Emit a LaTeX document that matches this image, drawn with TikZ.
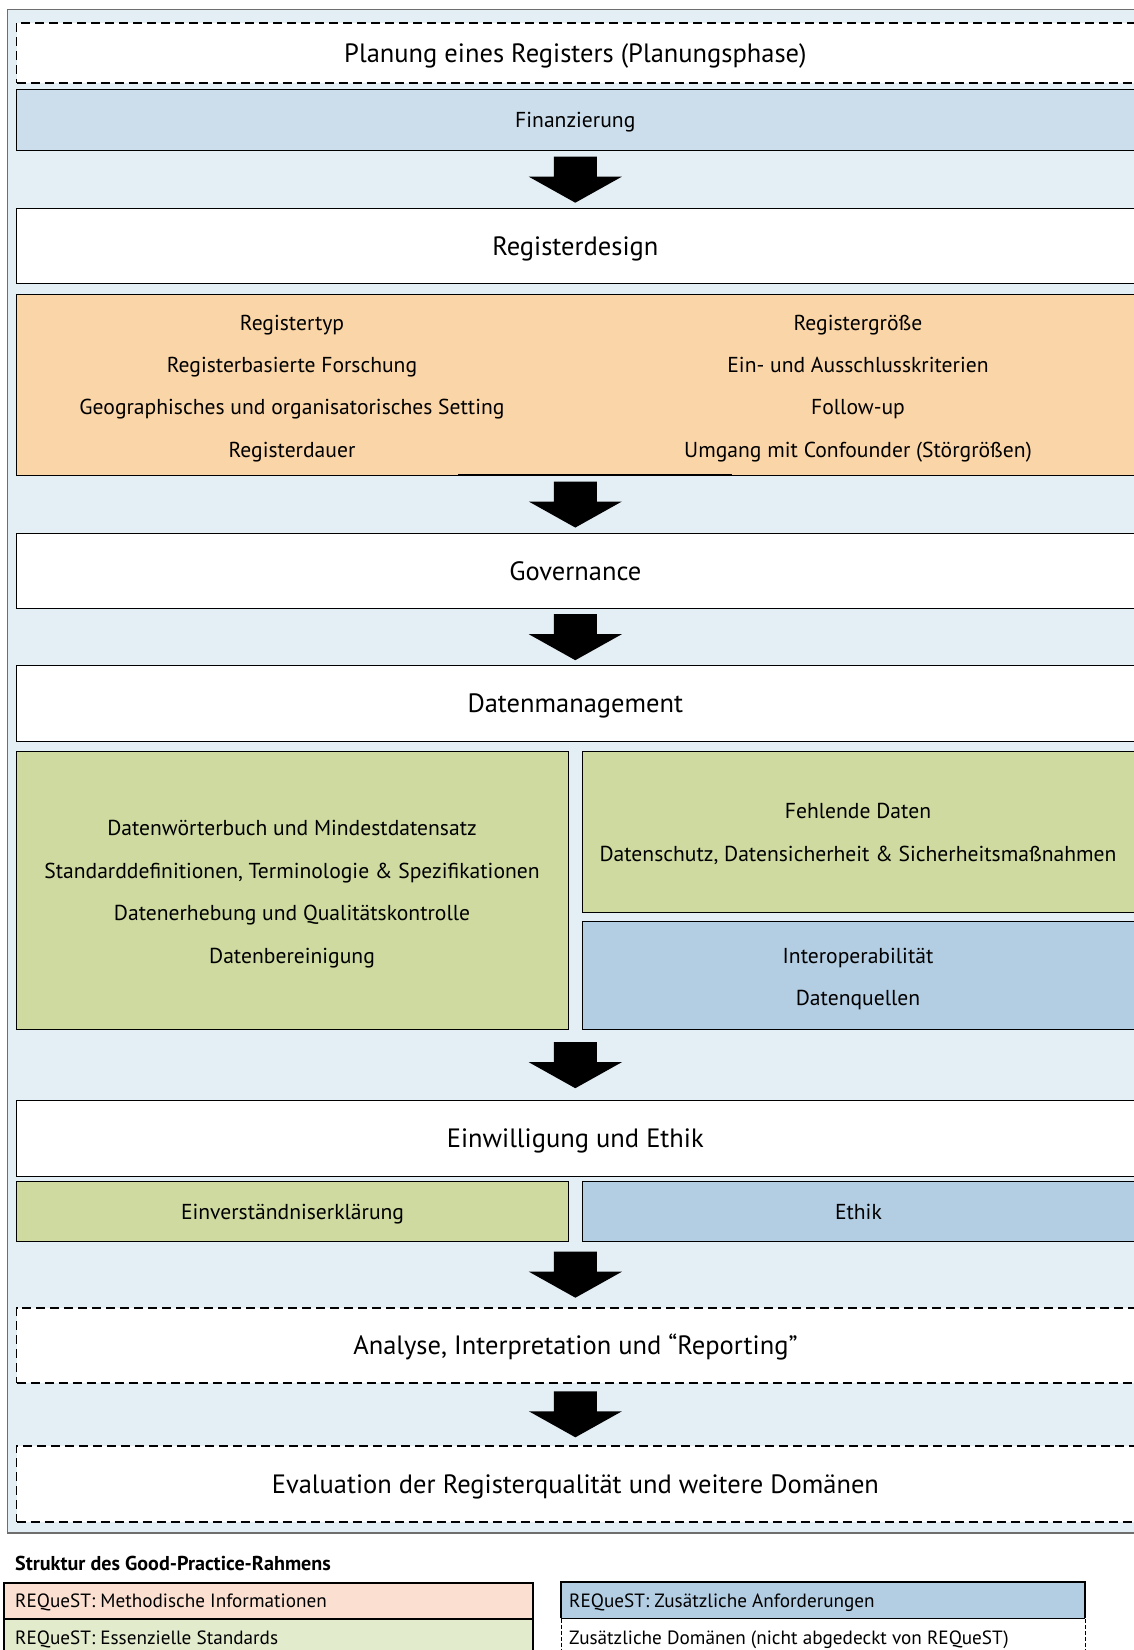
\documentclass[tikz,border=0pt]{standalone}
\usepackage{fontspec}
\setmainfont{PT Sans}
\usetikzlibrary{calc}
\definecolor{bgblue}{RGB}{227,238,245}
\definecolor{finblue}{RGB}{204,222,235}
\definecolor{orangebox}{RGB}{250,213,167}
\definecolor{greenbox}{RGB}{207,218,160}
\definecolor{bluebox}{RGB}{179,206,227}
\definecolor{legpeach}{RGB}{251,224,210}
\definecolor{leggreen}{RGB}{227,235,205}
\definecolor{framegray}{RGB}{110,110,110}

\newcommand\mkbox[7]{%
  \pgfmathsetmacro\mkbw{#5-#3}\pgfmathsetmacro\mkbh{#6-#4}%
  \node[#2, minimum width=\mkbw pt, minimum height=\mkbh pt, anchor=north west] (#1) at (#3,#4) {#7};}

\tikzset{
  solidbox/.style={draw=black, line width=1.4pt, inner sep=0pt, fill=white},
  dashbox/.style={draw=black, line width=1.6pt, dash pattern=on 9pt off 5pt, fill=white, inner sep=0pt},
  title/.style={font=\fontsize{26.5}{30}\selectfont, text height=18.5pt, text depth=0pt},
  bodyc/.style={font=\fontsize{21.6}{26}\selectfont, text height=15.1pt, text depth=0pt},
  txtline/.style={font=\fontsize{21.6}{26}\selectfont, anchor=base, inner sep=0pt},
  legtxt/.style={font=\fontsize{19.2}{24}\selectfont, anchor=base west, inner sep=0pt},
  legtitle/.style={font=\bfseries\fontsize{20.1}{24}\selectfont, anchor=base west, inner sep=0pt},
  legbox/.style={draw=black, line width=2pt, inner sep=0pt},
  legdash/.style={draw=black, line width=1.2pt, dash pattern=on 4pt off 2pt, inner sep=0pt, fill=white},
  blockarrow/.pic={\fill[black] (-21.5,-23) -- (21.5,-23) -- (21.5,-3) -- (46.5,-3) -- (0,23) -- (-46.5,-3) -- (-21.5,-3) -- cycle;}
}

\begin{document}
\begin{tikzpicture}[x=1pt,y=-1pt]
\useasboundingbox (0,0) rectangle (1134,1650);
\fill[white] (0,0) rectangle (1134,1650);
% background frame
\filldraw[fill=bgblue, draw=framegray, line width=1.3pt] (7.3,9.5) rectangle (1150,1533);

% main boxes
\mkbox{plan}{dashbox,title}{15.7}{22}{1133.5}{82}{Planung eines Registers (Planungsphase)}
\mkbox{fin}{solidbox,fill=finblue,bodyc}{15.7}{89}{1133.5}{150}{Finanzierung}
\mkbox{reg}{solidbox,title}{15.7}{208}{1133.5}{283}{Registerdesign}
\mkbox{orng}{solidbox,fill=orangebox}{15.7}{294}{1133.5}{475}{}
\mkbox{gov}{solidbox,title}{15.7}{532.7}{1133.5}{608}{Governance}
\mkbox{dm}{solidbox,title}{15.7}{665}{1133.5}{741}{Datenmanagement}
\mkbox{gl}{solidbox,fill=greenbox}{15.7}{750.5}{568}{1029}{}
\mkbox{gr}{solidbox,fill=greenbox}{582}{750.5}{1133.5}{911.5}{}
\mkbox{br}{solidbox,fill=bluebox}{582}{921}{1133.5}{1029}{}
\mkbox{ein}{solidbox,title}{15.7}{1100}{1133.5}{1176}{Einwilligung und Ethik}
\mkbox{ev}{solidbox,fill=greenbox,bodyc}{15.7}{1181}{568}{1241}{Einverständniserklärung}
\mkbox{eth}{solidbox,fill=bluebox,bodyc}{582}{1181}{1133.5}{1241}{Ethik}
\mkbox{ana}{dashbox,title}{15.7}{1307}{1133.5}{1382}{Analyse, Interpretation und “Reporting”}
\mkbox{evl}{dashbox,title}{15.7}{1445}{1133.5}{1521}{Evaluation der Registerqualität und weitere Domänen}

% dark segment on the orange box bottom
\draw[line width=2pt] (458,474.5) -- (732,474.5);

% block arrows
\pic at ($(fin.south)!0.5!(reg.north)$) {blockarrow};
\pic at ($(orng.south)!0.5!(gov.north)$) {blockarrow};
\pic at ($(gov.south)!0.5!(dm.north)$) {blockarrow};
\pic at ($(ein.north |- gl.south)!0.5!(ein.north)$) {blockarrow};
\pic at ($(ana.north |- ev.south)!0.5!(ana.north)$) {blockarrow};
\pic at ($(ana.south)!0.5!(evl.north)$) {blockarrow};

% orange texts
\foreach \t [count=\i] in {Registertyp, Registerbasierte Forschung, Geographisches und organisatorisches Setting, Registerdauer}
  \node[txtline] (ol\i) at (292, {330+42.4*(\i-1)}) {\t};
\foreach \t [count=\i] in {Registergröße, Ein- und Ausschlusskriterien, Follow-up, Umgang mit Confounder (Störgrößen)}
  \node[txtline] (or\i) at (858, {330+42.4*(\i-1)}) {\t};

% green left texts
\foreach \t [count=\i] in {Datenwörterbuch und Mindestdatensatz, {Standarddefinitionen, Terminologie \& Spezifikationen}, Datenerhebung und Qualitätskontrolle, Datenbereinigung}
  \node[txtline] (gt\i) at (292, {835.5+42.6*(\i-1)}) {\t};
% green right texts
\node[txtline] (gr1) at (858, 818.5) {Fehlende Daten};
\node[txtline] (gr2) at (858, 861.5) {Datenschutz, Datensicherheit \& Sicherheitsmaßnahmen};
% blue right texts
\node[txtline] (bt1) at (858, 963.5) {Interoperabilität};
\node[txtline] (bt2) at (858, 1005.5) {Datenquellen};

% legend
\node[legtitle] (lt) at (15,1570) {Struktur des Good-Practice-Rahmens};
\mkbox{lm}{legbox,fill=legpeach}{3}{1582}{532}{1618}{}
\mkbox{le}{legbox,fill=leggreen}{3}{1618}{532}{1668}{}
\mkbox{lz}{legdash}{561}{1618}{1085}{1668}{}
\mkbox{lb}{inner sep=0pt,fill=bluebox}{561}{1582}{1085}{1618}{}
\draw[line width=2pt] (lb.south west) -- (lb.north west) -- (lb.north east) -- (lb.south east);
\draw[line width=1.2pt, dash pattern=on 4pt off 2pt] (lb.south west) -- (lb.south east);
\node[legtxt] (lmt) at (15,1607.5) {REQueST: Methodische Informationen};
\node[legtxt] (let) at (15,1644) {REQueST: Essenzielle Standards};
\node[legtxt] (lbt) at (569,1607.5) {REQueST: Zusätzliche Anforderungen};
\node[legtxt] (lzt) at (569,1644) {Zusätzliche Domänen (nicht abgedeckt von REQueST)};
\end{tikzpicture}
\end{document}
